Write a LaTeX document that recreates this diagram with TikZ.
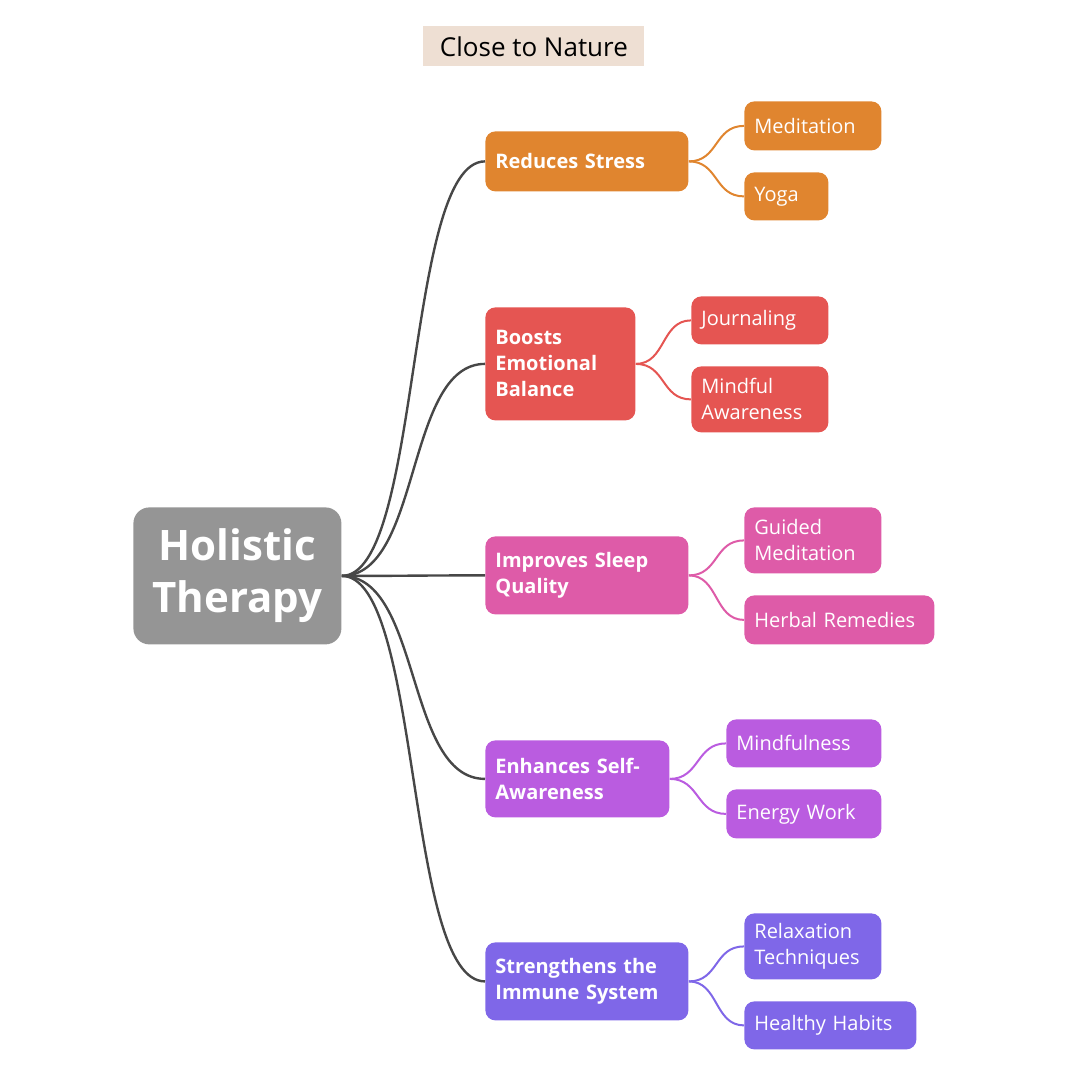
\documentclass[tikz,border=0pt]{standalone}
\usepackage{fontspec}
\setmainfont{Open Sans}
\definecolor{cstress}{HTML}{E0852F}
\definecolor{cbalance}{HTML}{E55552}
\definecolor{csleep}{HTML}{DE5BA8}
\definecolor{cself}{HTML}{BA5CE0}
\definecolor{cimmune}{HTML}{7F67E8}
\definecolor{croot}{HTML}{959595}
\definecolor{ctitle}{HTML}{EEDFD3}
\tikzset{
  mmbox/.style={rounded corners=5pt, anchor=north west, inner xsep=5pt, inner ysep=0pt, align=left, text=white},
  branch/.style={mmbox, font=\bfseries\fontsize{10}{13}\selectfont},
  leaf/.style={mmbox, font=\fontsize{10}{13}\selectfont},
  rootlink/.style={draw=black!72, line width=1.2pt},
  leaflink/.style={line width=1pt}
}
% box from (x1,y1) to (x2,y2) in pixels
\newcommand\mmnode[7]{%
  \pgfmathsetmacro\mmw{(#4-#2)*0.5}\pgfmathsetmacro\mmh{(#5-#3)*0.5}\pgfmathsetmacro\mmt{\mmw-10}%
  \node[#6, minimum width=\mmw pt, minimum height=\mmh pt, text width=\mmt pt] (#1) at (#2,#3) {#7};}
\begin{document}
\begin{tikzpicture}[x=0.5pt,y=-0.5pt]
  \useasboundingbox (0,0) rectangle (1080,1080);
  \node[fill=ctitle, minimum width=110.5pt, minimum height=20pt, anchor=north west, font=\fontsize{13}{15}\selectfont] (title) at (423,26) {Close to Nature};
  \node[fill=croot, rounded corners=8pt, minimum width=104pt, minimum height=68.5pt, anchor=north west, text=white, align=center, font=\bfseries\fontsize{21}{26}\selectfont] (root) at (133,507) {Holistic\\Therapy};

  \mmnode{stress}{485}{131}{688}{191}{branch, fill=cstress}{Reduces Stress}
  \mmnode{meditation}{744}{101}{881}{150}{leaf, fill=cstress}{Meditation}
  \mmnode{yoga}{744}{172}{828}{220}{leaf, fill=cstress}{Yoga}

  \mmnode{balance}{485}{307}{635}{420}{branch, fill=cbalance}{Boosts\\Emotional\\Balance}
  \mmnode{journaling}{691}{296}{828}{344}{leaf, fill=cbalance}{Journaling}
  \mmnode{mindful}{691}{366}{828}{432}{leaf, fill=cbalance}{Mindful\\Awareness}

  \mmnode{sleep}{485}{536}{688}{614}{branch, fill=csleep}{Improves Sleep\\Quality}
  \mmnode{guided}{744}{507}{881}{573}{leaf, fill=csleep}{Guided\\Meditation}
  \mmnode{herbal}{744}{595}{934}{644}{leaf, fill=csleep}{Herbal Remedies}

  \mmnode{self}{485}{740}{669}{817}{branch, fill=cself}{Enhances Self-\\Awareness}
  \mmnode{mindfulness}{726}{719}{881}{767}{leaf, fill=cself}{Mindfulness}
  \mmnode{energy}{726}{789}{881}{838}{leaf, fill=cself}{Energy Work}

  \mmnode{immune}{485}{942}{688}{1020}{branch, fill=cimmune}{Strengthens the\\Immune System}
  \mmnode{relax}{744}{913}{881}{979}{leaf, fill=cimmune}{Relaxation\\Techniques}
  \mmnode{habits}{744}{1001}{916}{1049}{leaf, fill=cimmune}{Healthy Habits}

  \foreach \b in {stress,balance,sleep,self,immune}
    \draw[rootlink] (root.east) .. controls +(80,0) and +(-80,0) .. (\b.west);
  \foreach \b/\l/\c in {stress/meditation/cstress, stress/yoga/cstress,
      balance/journaling/cbalance, balance/mindful/cbalance,
      sleep/guided/csleep, sleep/herbal/csleep,
      self/mindfulness/cself, self/energy/cself,
      immune/relax/cimmune, immune/habits/cimmune}
    \draw[leaflink, draw=\c] (\b.east) .. controls +(30,0) and +(-30,0) .. (\l.west);
\end{tikzpicture}
\end{document}
